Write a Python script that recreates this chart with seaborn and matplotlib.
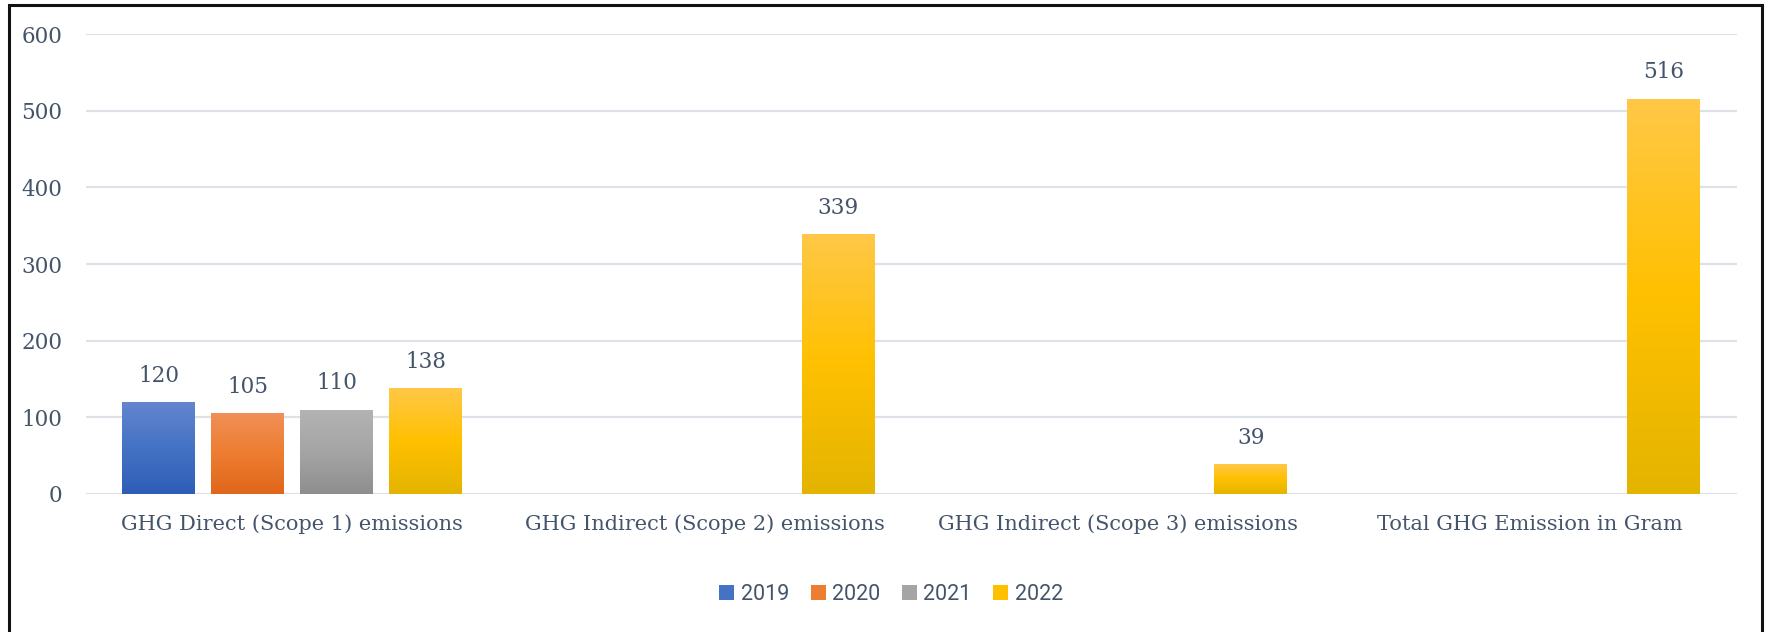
import numpy as np
import pandas as pd
import matplotlib
matplotlib.use("Agg")
import matplotlib.pyplot as plt
import seaborn as sns
from matplotlib.colors import LinearSegmentedColormap, to_hex
from matplotlib.patches import Patch, Rectangle

# data
categories = [
    "GHG Direct (Scope 1) emissions",
    "GHG Indirect (Scope 2) emissions",
    "GHG Indirect (Scope 3) emissions",
    "Total GHG Emission in Gram",
]
years = ["2019", "2020", "2021", "2022"]
v2019 = [120, None, None, None]
v2020 = [105, None, None, None]
v2021 = [110, None, None, None]
v2022 = [138, 339, 39, 516]
yticks = [0, 100, 200, 300, 400, 500, 600]

# office-like gradient stops (top, mid, bottom)
mid_cols = ["#4472C4", "#ED7D31", "#A5A5A5", "#FFC000"]
top_cols = ["#6386CE", "#F18F57", "#B3B3B3", "#FFC847"]
bot_cols = ["#2D5DB7", "#E0661A", "#8E8E8E", "#E4B400"]
TEXT = "#44546A"

rows = []
for yr, vals in zip(years, [v2019, v2020, v2021, v2022]):
    for cat, v in zip(categories, vals):
        if v is not None:
            rows.append({"category": cat, "year": yr, "value": v})
df = pd.DataFrame(rows)

sns.set_theme(style="white")
plt.rcParams["font.family"] = ["DejaVu Serif"]

fig = plt.figure(figsize=(17.68, 6.32), dpi=100)
ax = fig.add_axes([0.0486, 0.2184, 0.9336, 0.7276])

sns.barplot(data=df, x="category", y="value", hue="year",
            order=categories, hue_order=years, palette=mid_cols,
            saturation=1, width=0.862, gap=0.18, legend=False,
            edgecolor="none", linewidth=0, ax=ax)

xlim = ax.get_xlim()

# gradient fill clipped to each bar
col_idx = {to_hex(c): i for i, c in enumerate(mid_cols)}
grad = np.linspace(0, 1, 256).reshape(-1, 1)
for bar in list(ax.patches):
    i = col_idx.get(to_hex(bar.get_facecolor()[:3]))
    if i is None:
        continue
    cmap = LinearSegmentedColormap.from_list(
        f"g{i}", [bot_cols[i], mid_cols[i], top_cols[i]])
    x0, w, h = bar.get_x(), bar.get_width(), bar.get_height()
    im = ax.imshow(grad, cmap=cmap, origin="lower", aspect="auto",
                   extent=[x0, x0 + w, 0, h], zorder=bar.get_zorder() + 0.1)
    im.set_clip_path(bar)

for cont in ax.containers:
    ax.bar_label(cont, fmt="%.0f", padding=11, fontsize=15.5, color=TEXT)

ax.set_xlim(xlim)
ax.set_ylim(0, 600)
ax.set_yticks(yticks)
ax.yaxis.grid(True, color="#DDE2E9", linewidth=1.6)
ax.set_axisbelow(True)
for s in ax.spines.values():
    s.set_visible(False)
ax.set_xlabel("")
ax.set_ylabel("")
ax.tick_params(axis="y", length=0, pad=17, labelsize=15.5, labelcolor=TEXT)
ax.tick_params(axis="x", length=0, pad=15, labelsize=15, labelcolor=TEXT)

handles = [Patch(facecolor=c, edgecolor="none") for c in mid_cols]
fig.legend(handles, years, loc="center", bbox_to_anchor=(0.504, 0.059),
           ncol=4, frameon=False, handlelength=0.7, handleheight=0.7,
           handletextpad=0.3, columnspacing=1.0,
           prop={"family": "Roboto", "size": 15.5}, labelcolor=TEXT)

# outer border (bottom edge runs off the image like the reference)
fig.patches.append(Rectangle((9 / 1768, -0.05), (1762 - 9) / 1768, 1 - 5 / 632 + 0.05,
                             transform=fig.transFigure, fill=False,
                             edgecolor="#111111", linewidth=2.2))

fig.savefig("out.png", dpi=100, facecolor="white")
